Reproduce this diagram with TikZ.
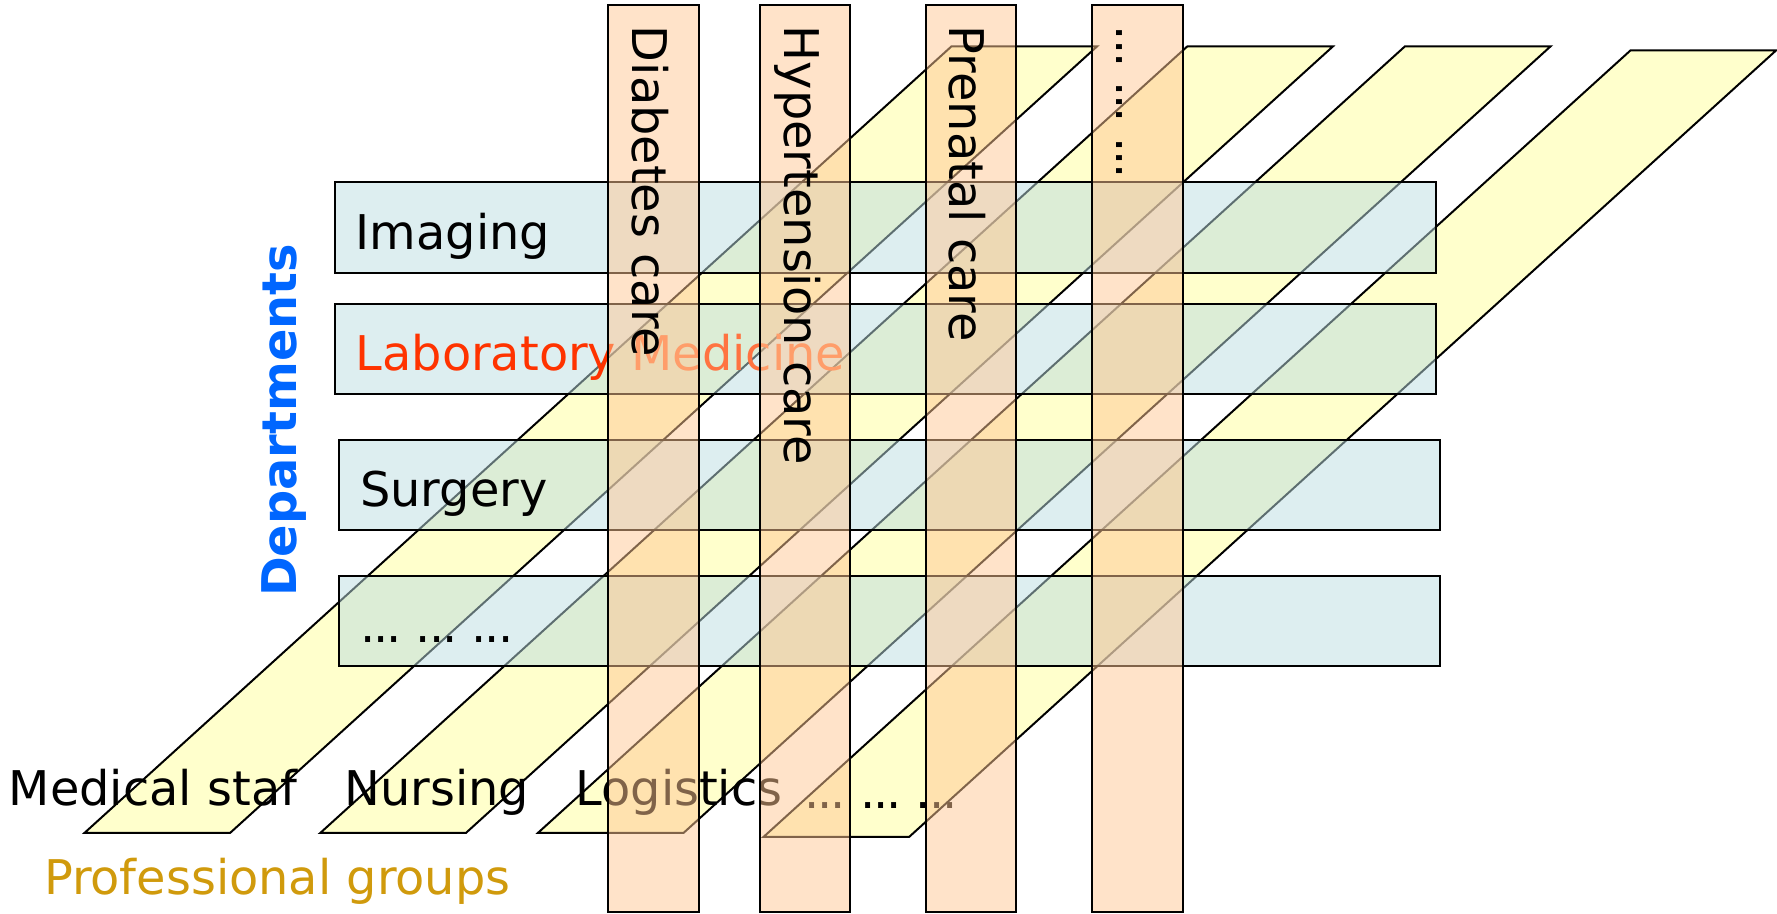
\documentclass[tikz,border=0pt]{standalone}
\usepackage{fontspec}
\setmainfont{DejaVu Sans}
\usetikzlibrary{shapes,arrows}

\definecolor{groupyellow}{RGB}{255,255,204}
\definecolor{deptblue}{RGB}{187,221,225}
\definecolor{careorange}{RGB}{255,199,147}
\definecolor{labred}{RGB}{255,51,0}
\definecolor{medcoral}{RGB}{255,115,65}
\definecolor{groupgold}{RGB}{208,154,12}
\definecolor{titleblue}{RGB}{0,102,255}

% three groups of dots, set a little tighter
\newcommand{\etcdots}{.\kern-.043em.\kern-.043em.\kern-.02em\ .\kern-.043em.\kern-.043em.\kern-.02em\ .\kern-.043em.\kern-.043em.}

\begin{document}
\begin{tikzpicture}[x=0.01cm,y=-0.01cm,line width=0.5pt,font=\fontsize{12}{14}\selectfont]
\tikzstyle{every node}=[inner sep=0pt]
\tikzstyle{group}=[draw=black,fill=groupyellow]
\tikzstyle{deptbar}=[draw=black,fill=deptblue,fill opacity=0.5,minimum width=9.71cm,minimum height=0.8cm]
\tikzstyle{carebar}=[draw=black,fill=careorange,fill opacity=0.5,minimum width=0.795cm,minimum height=8.0cm]
\tikzstyle{deptlabel}=[anchor=base west]
\tikzstyle{carelabel}=[rotate=-90,anchor=base west]
\useasboundingbox (0,0) rectangle (1568,806);

% professional groups (slanted ribbons)
\filldraw[group] (74.5,735) -- ++(128.5,0) -- ++(765,-694) -- ++(-128.5,0) -- cycle;
\filldraw[group] (282.6,735) -- ++(128.5,0) -- ++(765,-694) -- ++(-128.5,0) -- cycle;
\filldraw[group] (474.6,735) -- ++(128.5,0) -- ++(765,-694) -- ++(-128.5,0) -- cycle;
\filldraw[group] (673.7,738.5) -- ++(128.5,0) -- ++(765,-694) -- ++(-128.5,0) -- cycle;

% departments
\node[deptbar] (imaging) at (781.7,201) {};
\node[deptbar] (labmed) at (781.7,308) {};
\node[deptbar] (surgery) at (785,428) {};
\node[deptbar] (moredept) at (785,548) {};
\node[deptlabel] (imagingtext) at (313,220) {Imaging};
\node[deptlabel,text=labred] (labmedtext) at (313,327) {Laboratory \textcolor{medcoral}{Medicine}};
\node[deptlabel] (surgerytext) at (317,447) {Surgery};
\node[deptlabel] (moredepttext) at (317,567) {\etcdots};

\node[deptlabel] (medstaff) at (7,711) {Medical staf};
\node[deptlabel] (nursing) at (303,711) {Nursing};
\node[deptlabel] (logistics) at (507,711) {Logistics};
\node[deptlabel] (moregroup) at (709,713) {\etcdots};

% care paths
\node[carebar] (diabetes) at (576.7,404.5) {};
\node[carebar] (hypertension) at (710.2,404.5) {};
\node[carebar] (prenatal) at (856.8,404.5) {};
\node[carebar] (morecare) at (1003.7,404.5) {};
\node[carelabel] (diabetestext) at (558,22) {Diabetes care};
\node[carelabel] (hypertensiontext) at (692,22) {Hypertension care};
\node[carelabel] (prenataltext) at (838,22) {Prenatal care};
\node[carelabel] (morecaretext) at (985,22) {\etcdots};

% axis titles
\node[rotate=90,text=titleblue,font=\fontsize{12}{14}\selectfont\bfseries] (depttitle) at (251,371) {Departments};
\node[deptlabel,text=groupgold] (grouptitle) at (38,789) {Professional groups};
\end{tikzpicture}
\end{document}
